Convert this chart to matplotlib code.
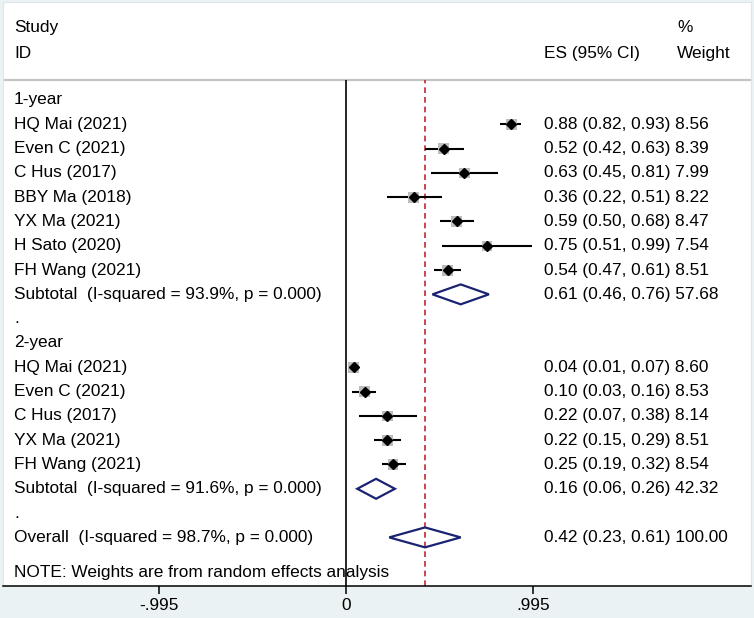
import numpy as np
import matplotlib
matplotlib.use("Agg")
from matplotlib import pyplot as plt
from matplotlib.patches import Polygon

# --- data ---
studies_1y = ["HQ Mai (2021)", "Even C (2021)", "C Hus (2017)", "BBY Ma (2018)",
              "YX Ma (2021)", "H Sato (2020)", "FH Wang (2021)"]
es_1y = [0.88, 0.52, 0.63, 0.36, 0.59, 0.75, 0.54]
lo_1y = [0.82, 0.42, 0.45, 0.22, 0.50, 0.51, 0.47]
hi_1y = [0.93, 0.63, 0.81, 0.51, 0.68, 0.99, 0.61]
wt_1y = [8.56, 8.39, 7.99, 8.22, 8.47, 7.54, 8.51]

studies_2y = ["HQ Mai (2021)", "Even C (2021)", "C Hus (2017)", "YX Ma (2021)",
              "FH Wang (2021)"]
es_2y = [0.04, 0.10, 0.22, 0.22, 0.25]
lo_2y = [0.01, 0.03, 0.07, 0.15, 0.19]
hi_2y = [0.07, 0.16, 0.38, 0.29, 0.32]
wt_2y = [8.60, 8.53, 8.14, 8.51, 8.54]

# subtotal / overall: es, lo, hi, weight, I-squared
sub_1y = (0.61, 0.46, 0.76, 57.68, "93.9%")
sub_2y = (0.16, 0.06, 0.26, 42.32, "91.6%")
overall = (0.42, 0.23, 0.61, 100.00, "98.7%")

xticks = [-0.995, 0, 0.995]
xtick_labels = ["-.995", "0", ".995"]

# --- layout ---
BG = "#eaf2f3"
NAVY = "#1a2372"
FS = 12.4
plt.rcParams['font.family'] = ['Liberation Sans', 'DejaVu Sans']

fig = plt.figure(figsize=(7.54, 6.18), dpi=100, facecolor=BG)
ax = fig.add_axes([3 / 754, 32 / 618, 748 / 754, 584 / 618], facecolor="white")

px = 188.0  # pixels per unit on x
x0 = 346 - 3  # pixel of zero inside the axes
xmin, xmax = -x0 / px, (748 - x0) / px
ymin, ymax = 20.0, -4.03
ax.set_xlim(xmin, xmax)
ax.set_ylim(ymin, ymax)

x_label = xmin + 11 / px
x_es = xmin + 541 / px
x_wt = xmin + 674 / px


def es_text(e, l, h, w):
    return f"{e:.2f} ({l:.2f}, {h:.2f}) {w:.2f}"


def diamond(e, l, h, y):
    hh = 0.41
    ax.add_patch(Polygon([(l, y), (e, y - hh), (h, y), (e, y + hh)], closed=True,
                         fill=False, edgecolor=NAVY, lw=1.6, zorder=4))


def study_rows(names, es, lo, hi, wt, start):
    ys = np.arange(start, start + len(names))
    ax.hlines(ys, lo, hi, color="black", lw=1.5, zorder=3)
    side = 3.75 * np.sqrt(np.array(wt)) / 1.389
    ax.scatter(es, ys, marker="s", s=side ** 2, color="#bdbdbd", lw=0, zorder=3.5)
    ax.plot(es, ys, "D", color="black", ms=4.6, zorder=4)
    for y, n, e, l, h, w in zip(ys, names, es, lo, hi, wt):
        ax.text(x_label, y, n, fontsize=FS, va="center")
        ax.text(x_es, y, es_text(e, l, h, w), fontsize=FS, va="center")


# headers
ax.text(x_label, -3.0, "Study", fontsize=FS, va="center")
ax.text(x_label, -1.93, "ID", fontsize=FS, va="center")
ax.text(x_es, -1.93, "ES (95% CI)", fontsize=FS, va="center")
ax.text(x_wt, -3.0, "%", fontsize=FS, va="center")
ax.text(x_wt, -1.93, "Weight", fontsize=FS, va="center")
ax.axhline(-0.82, color="#c4c4c4", lw=1.6, zorder=1)

# 1-year group
ax.text(x_label, 0, "1-year", fontsize=FS, va="center")
study_rows(studies_1y, es_1y, lo_1y, hi_1y, wt_1y, 1)
e, l, h, w, i2 = sub_1y
diamond(e, l, h, 8)
ax.text(x_label, 8, f"Subtotal  (I-squared = {i2}, p = 0.000)", fontsize=FS, va="center")
ax.text(x_es, 8, es_text(e, l, h, w), fontsize=FS, va="center")
ax.text(x_label, 9, ".", fontsize=FS, va="center")

# 2-year group
ax.text(x_label, 10, "2-year", fontsize=FS, va="center")
study_rows(studies_2y, es_2y, lo_2y, hi_2y, wt_2y, 11)
e, l, h, w, i2 = sub_2y
diamond(e, l, h, 16)
ax.text(x_label, 16, f"Subtotal  (I-squared = {i2}, p = 0.000)", fontsize=FS, va="center")
ax.text(x_es, 16, es_text(e, l, h, w), fontsize=FS, va="center")
ax.text(x_label, 17, ".", fontsize=FS, va="center")

# overall
e, l, h, w, i2 = overall
diamond(e, l, h, 18)
ax.text(x_label, 18, f"Overall  (I-squared = {i2}, p = 0.000)", fontsize=FS, va="center")
ax.text(x_es, 18, es_text(e, l, h, w), fontsize=FS, va="center")
ax.text(x_label, 19.45, "NOTE: Weights are from random effects analysis",
        fontsize=FS, va="center")

# reference lines
ax.vlines(0, ymin, -0.82, color="black", lw=1.2, zorder=1)
ax.vlines(overall[0], ymin, -0.82, color="#c0272d", lw=1.2,
          linestyles=(0, (3.4, 2.4)), zorder=1)

# axes styling
ax.set_yticks([])
ax.set_xticks(xticks)
ax.set_xticklabels(xtick_labels, fontsize=FS)
ax.tick_params(axis="x", direction="out", length=6, width=1.1, pad=3)
for s in ["top", "left", "right"]:
    ax.spines[s].set_color("#dde6e8")
    ax.spines[s].set_linewidth(0.8)
ax.spines["bottom"].set_color("black")
ax.spines["bottom"].set_linewidth(1.1)

fig.savefig("out.png", dpi=100, facecolor=BG)
